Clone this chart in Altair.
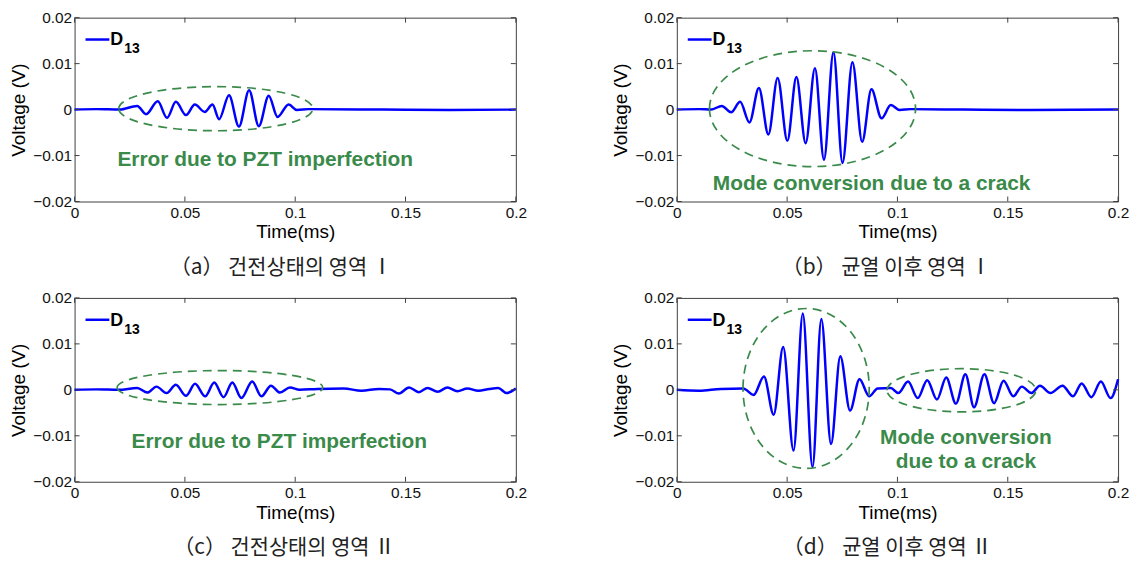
import altair as alt
import pandas as pd

# ---------------- data ----------------
x_ticks = [0, 0.05, 0.1, 0.15, 0.2]
y_ticks = [-0.02, -0.01, 0, 0.01, 0.02]

t_a = [0, 0.01, 0.0204, 0.0284, 0.0324, 0.0377, 0.0419, 0.0459, 0.0505, 0.0545, 0.059, 0.0625,
       0.0655, 0.07, 0.0745, 0.0791, 0.0835, 0.088, 0.092, 0.097, 0.1008, 0.106, 0.14, 0.17, 0.2]
v_a = [0, 0.0001, 0, 0.0008, -0.001, 0.0018, -0.0018, 0.0017, -0.0012, 0.0011, -0.0005, 0.0011,
       -0.0021, 0.0031, -0.0037, 0.0042, -0.0036, 0.003, -0.0016, 0.0011, -0.0001, 0.0001, 0, -0.0001, 0]

t_b = [0, 0.01, 0.0155, 0.0204, 0.0246, 0.0287, 0.0329, 0.0372, 0.0415, 0.0457, 0.0501, 0.0542,
       0.0584, 0.0626, 0.0667, 0.071, 0.0751, 0.0796, 0.084, 0.0882, 0.0928, 0.097, 0.101, 0.106,
       0.13, 0.16, 0.2]
v_b = [0, 0.0001, 0, 0.0008, -0.0006, 0.0017, -0.0028, 0.0047, -0.0054, 0.0069, -0.0068, 0.0071,
       -0.0073, 0.009, -0.0109, 0.0125, -0.0116, 0.0103, -0.007, 0.0044, -0.0019, 0.001, -0.0001,
       0.0001, 0, -0.0001, 0]

t_c = [0, 0.01, 0.02, 0.0284, 0.033, 0.0371, 0.0417, 0.0459, 0.0505, 0.0546, 0.0592, 0.0633,
       0.0675, 0.0715, 0.0756, 0.0805, 0.0847, 0.089, 0.0931, 0.0976, 0.102, 0.11, 0.122, 0.13,
       0.138, 0.143, 0.147, 0.1516, 0.156, 0.16, 0.1646, 0.169, 0.1735, 0.178, 0.183, 0.188,
       0.192, 0.1958, 0.2]
v_c = [0, 0.0001, 0, 0.0004, -0.0006, 0.0007, -0.0007, 0.0011, -0.0013, 0.0013, -0.0014, 0.0016,
       -0.0016, 0.0016, -0.0018, 0.0018, -0.0014, 0.0009, -0.0006, 0.0005, 0, 0.0002, 0.0003,
       -0.0002, 0.0002, 0.0001, -0.0008, 0.0005, -0.0005, 0.0004, -0.0004, 0.0005, -0.0003,
       0.0003, -0.0002, 0.0002, 0.0004, -0.0007, 0.0003]

t_d = [0, 0.01, 0.02, 0.0301, 0.0348, 0.0395, 0.0439, 0.0482, 0.0529, 0.0571, 0.0615, 0.0655,
       0.0699, 0.0741, 0.0785, 0.0828, 0.0872, 0.091, 0.097, 0.1004, 0.1048, 0.1092, 0.1135,
       0.1179, 0.1221, 0.1265, 0.1308, 0.1347, 0.1394, 0.1438, 0.1481, 0.1525, 0.1564, 0.1607,
       0.1646, 0.1693, 0.1748, 0.1796, 0.1835, 0.1879, 0.1922, 0.1966, 0.2]
v_d = [0, -0.0002, 0.0002, 0.0003, -0.0011, 0.0029, -0.0054, 0.0093, -0.0132, 0.0166, -0.0168,
       0.0154, -0.0118, 0.0073, -0.0045, 0.0023, -0.0014, 0.0003, 0.0004, -0.0007, 0.0018,
       -0.0018, 0.0021, -0.0021, 0.0027, -0.003, 0.0034, -0.0038, 0.0034, -0.0029, 0.002,
       -0.0014, 0.0007, -0.0007, 0.0009, -0.0007, 0.0009, -0.0014, 0.0014, -0.0016, 0.0018,
       -0.0018, 0.0023]

# ellipses: centre time, centre voltage, half-width (ms), half-height (V)
ell_a = [(0.064, 0.0002, 0.044, 0.0048)]
ell_b = [(0.0615, 0.0002, 0.0467, 0.0126)]
ell_c = [(0.0659, 0.0005, 0.0466, 0.0037)]
ell_d = [(0.0586, 0.0003, 0.0286, 0.0174), (0.129, -0.0001, 0.0337, 0.0047)]

# annotation texts: time, voltage, label
txt_a = [(0.0864, -0.011, "Error due to PZT imperfection")]
txt_b = [(0.0883, -0.0162, "Mode conversion due to a crack")]
txt_c = [(0.0928, -0.0114, "Error due to PZT imperfection")]
txt_d = [(0.131, -0.0104, "Mode conversion"), (0.131, -0.0157, "due to a crack")]

captions = ["（a） 건전상태의 영역 Ⅰ", "（b） 균열 이후 영역 Ⅰ",
            "（c） 건전상태의 영역 Ⅱ", "（d） 균열 이후 영역 Ⅱ"]

# ---------------- styling ----------------
W, H = 444, 185
BLUE = "#0000ff"
GREEN = "#3a8a4a"
FRAME = "#404040"
FONT = "Liberation Sans"

xscale = alt.Scale(domain=[0, 0.2], nice=False, zero=False)
yscale = alt.Scale(domain=[-0.02, 0.02], nice=False, zero=False)

AX = alt.Axis(values=x_ticks, title="Time(ms)", format="~g",
              ticks=False, tickSize=0, domain=False, grid=False,
              labelFlush=False, labelOverlap=False, labelPadding=4,
              labelFont=FONT, labelFontSize=15.5, labelColor="#111",
              titleFont=FONT, titleFontSize=19, titleFontWeight="normal",
              titleColor="#000", titlePadding=2)
AY = alt.Axis(values=y_ticks, title="Voltage (V)", format="~g",
              ticks=False, tickSize=0, domain=False, grid=False,
              labelFlush=False, labelOverlap=False, labelPadding=3,
              labelFont=FONT, labelFontSize=15.5, labelColor="#111",
              titleFont=FONT, titleFontSize=19, titleFontWeight="normal",
              titleColor="#000", titlePadding=4)


def X(field):
    return alt.X(field, type="quantitative", scale=xscale, axis=AX)


def Y(field):
    return alt.Y(field, type="quantitative", scale=yscale, axis=AY)


def ellipse_path(r):
    k = 0.5523
    return (f"M -1 0 C -1 {-k*r:.4f} {-k:.4f} {-r:.4f} 0 {-r:.4f} "
            f"C {k:.4f} {-r:.4f} 1 {-k*r:.4f} 1 0 "
            f"C 1 {k*r:.4f} {k:.4f} {r:.4f} 0 {r:.4f} "
            f"C {-k:.4f} {r:.4f} -1 {k*r:.4f} -1 0 Z")


def panel(ts, vs, ells, txts, caption, dx):
    df = pd.DataFrame({"t": ts, "v": vs})
    layers = []

    layers.append(alt.Chart(df).mark_line(color=BLUE, strokeWidth=2.5, interpolate="monotone")
                  .encode(x=X("t"), y=Y("v")))

    for (ct, cv, dt, dv) in ells:
        wpx = 2 * dt / 0.2 * W
        hpx = 2 * dv / 0.04 * H
        layers.append(alt.Chart(pd.DataFrame({"t": [ct], "v": [cv]})).mark_point(
            shape=ellipse_path(hpx / wpx), size=wpx * wpx, filled=False,
            stroke=GREEN, strokeWidth=1.7, strokeDash=[9, 6], opacity=1
        ).encode(x=X("t"), y=Y("v")))

    tdf = pd.DataFrame(txts, columns=["t", "v", "label"])
    layers.append(alt.Chart(tdf).mark_text(color=GREEN, font=FONT, fontSize=21, fontWeight="bold",
                                           align="center", baseline="middle").encode(
        x=X("t"), y=Y("v"), text="label:N"))

    # inward tick marks on all four sides
    xt = pd.DataFrame({"t": x_ticks})
    yt = pd.DataFrame({"v": y_ticks})
    for y0, y1 in [(H, H - 5), (0, 5)]:
        layers.append(alt.Chart(xt).mark_rule(color=FRAME, strokeWidth=1).encode(
            x=X("t"), y=alt.value(y0), y2=alt.value(y1)))
    for x0, x1 in [(0, 5), (W - 5, W)]:
        layers.append(alt.Chart(yt).mark_rule(color=FRAME, strokeWidth=1).encode(
            y=Y("v"), x=alt.value(x0), x2=alt.value(x1)))

    # legend "D13"
    one = pd.DataFrame({"k": [0]})
    layers.append(alt.Chart(one).mark_rule(color=BLUE, strokeWidth=2.5).encode(
        x=alt.value(11), x2=alt.value(35), y=alt.value(22)))
    layers.append(alt.Chart(one).mark_text(text="D", font=FONT, fontSize=18, fontWeight="bold",
                                           color="#000", align="left", baseline="alphabetic").encode(
        x=alt.value(36), y=alt.value(28)))
    layers.append(alt.Chart(one).mark_text(text="13", font=FONT, fontSize=14, fontWeight="bold",
                                           color="#000", align="left", baseline="alphabetic").encode(
        x=alt.value(50), y=alt.value(36)))

    return alt.layer(*layers).properties(
        width=W, height=H,
        title=alt.TitleParams(text=caption, orient="bottom", anchor="middle",
                              font="Noto Sans CJK KR", fontSize=21, fontWeight="normal",
                              color="#222", offset=15, dx=dx))


pa = panel(t_a, v_a, ell_a, txt_a, captions[0], -14)
pb = panel(t_b, v_b, ell_b, txt_b, captions[1], -11)
pc = panel(t_c, v_c, ell_c, txt_c, captions[2], -11)
pd_ = panel(t_d, v_d, ell_d, txt_d, captions[3], -10)

top = alt.hconcat(pa, pb, spacing=84)
bottom = alt.hconcat(pc, pd_, spacing=84)
chart = alt.vconcat(top, bottom, spacing=12).properties(
    padding={"left": 1, "top": 0, "right": 0, "bottom": 0}
).configure(background="white").configure_view(stroke=FRAME, strokeWidth=1)

chart.save("out.html", embed_options={"renderer": "svg", "actions": False})
